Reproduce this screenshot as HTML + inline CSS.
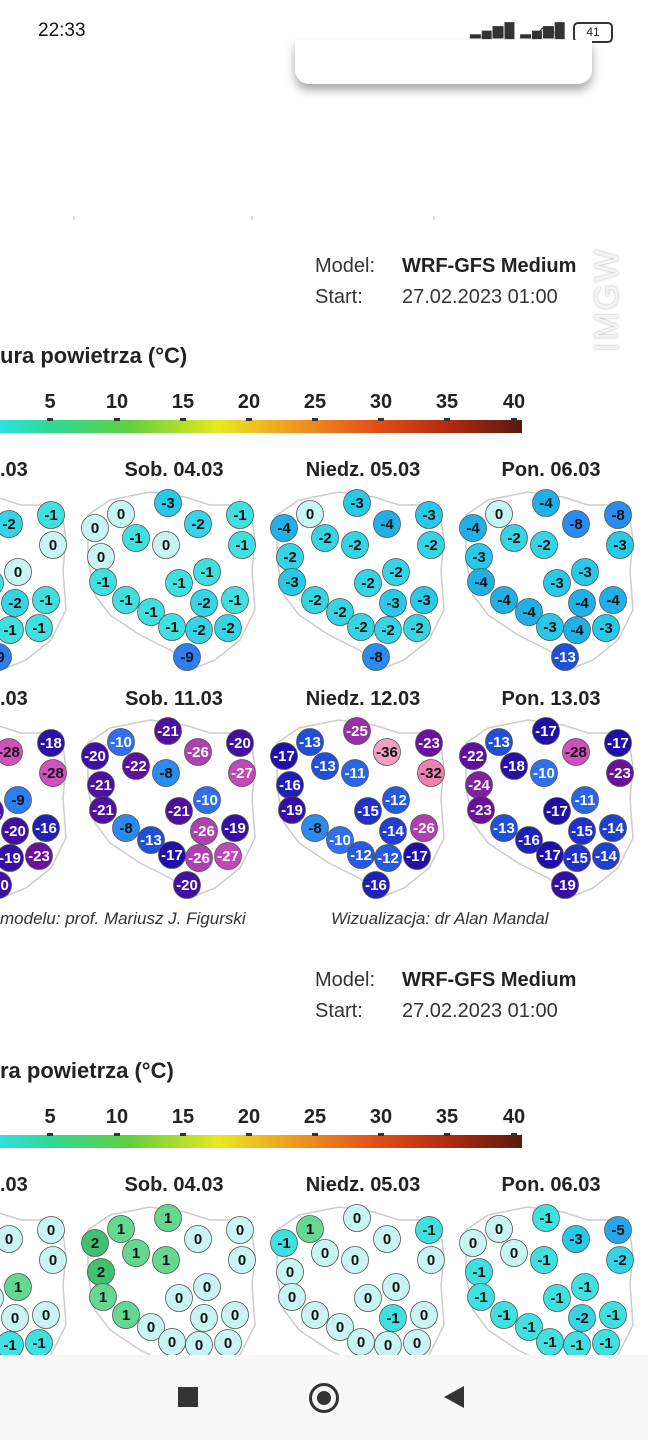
<!DOCTYPE html>
<html><head><meta charset="utf-8"><style>
html,body{margin:0;padding:0;width:648px;height:1440px;overflow:hidden;background:#fff;font-family:"Liberation Sans",sans-serif;position:relative}
.a{position:absolute;white-space:nowrap}
</style></head><body>
<div class="a" style="left:38px;top:20px;font-size:19px;color:#111">22:33</div>
<div class="a" style="left:470px;top:22px;font-size:14px;color:#333;letter-spacing:1px">▂▄▆█ ▂▄▆█</div>
<div class="a" style="left:538px;top:20px;font-size:20px;color:#333">◠</div>
<div class="a" style="left:573px;top:22px;width:36px;height:17px;border:2px solid #333;border-radius:5px;font-size:12px;text-align:center;line-height:17px;color:#222">41</div>
<div class="a" style="left:295px;top:40px;width:297px;height:44px;background:#fff;border-radius:0 0 14px 14px;box-shadow:0 6px 10px rgba(0,0,0,0.35)"></div>
<div class="a" style="left:582px;top:240px;width:50px;height:120px"><div style="transform:rotate(-90deg) translate(-112px,0);transform-origin:0 0;font-size:34px;color:#f4f4f4;letter-spacing:2px;text-shadow:0 0 2px #aaa;position:absolute;top:0;left:6px">IMGW</div></div>
<svg class="a" style="left:0;top:0" width="648" height="1355" id="s"></svg>
<div class="a" style="left:0;top:1355px;width:648px;height:85px;background:#f7f7f7"></div>
<div class="a" style="left:178px;top:1387px;width:20px;height:20px;background:#333"></div>
<div class="a" style="left:309px;top:1383px;width:24px;height:24px;border:3px solid #333;border-radius:50%"></div>
<div class="a" style="left:317px;top:1391px;width:14px;height:14px;background:#333;border-radius:50%"></div>
<div class="a" style="left:444px;top:1386px;width:0;height:0;border-top:11px solid transparent;border-bottom:11px solid transparent;border-right:20px solid #333"></div>
<script>
var S=document.getElementById('s'),h='';
function T(x,y,t,sz,w,fill,st,anc){h+='<text x="'+x+'" y="'+y+'" font-size="'+sz+'" font-weight="'+(w||'normal')+'" fill="'+(fill||'#222')+'" font-style="'+(st||'normal')+'" text-anchor="'+(anc||'start')+'" font-family="Liberation Sans,sans-serif">'+t+'</text>';}
h+='<defs><linearGradient id="g"><stop offset="0" stop-color="#30e0e0"/><stop offset="0.1" stop-color="#30d890"/><stop offset="0.25" stop-color="#60d040"/><stop offset="0.42" stop-color="#e8e820"/><stop offset="0.55" stop-color="#f0a020"/><stop offset="0.72" stop-color="#e05018"/><stop offset="0.86" stop-color="#b02a10"/><stop offset="1" stop-color="#5a1810"/></linearGradient></defs>';
h+='<text x="72" y="218" font-size="14" fill="#aaa">,</text><text x="250" y="218" font-size="14" fill="#aaa">,</text><text x="432" y="218" font-size="14" fill="#aaa">,</text>';
function header(y){
 T(315,y,'Model:',20,'normal','#333');T(402,y,'WRF-GFS Medium',20,'bold','#222');
 T(315,y+31,'Start:',20,'normal','#333');T(402,y+31,'27.02.2023 01:00',20,'normal','#333');
}
header(272);header(986);
function scale(y,lab){
 T(0,y,lab,22,'bold','#222');
 var xs=[50,117,183,249,315,381,447,514];
 for(var i=0;i<8;i++)T(xs[i],y+45,5*(i+1),20,'bold','#222','normal','middle');
 h+='<rect x="0" y="'+(y+57)+'" width="522" height="13" fill="url(#g)"/>';
 for(var i=0;i<8;i++)h+='<rect x="'+(xs[i]-3)+'" y="'+(y+55)+'" width="6" height="3" fill="#333"/>';
}
scale(363,'ura powietrza (°C)');scale(1078,'ra powietrza (°C)');
function days(y,a){var xs=[0,174,363,551];for(var i=0;i<4;i++)T(xs[i],y,a[i],20,'bold','#222','normal',i?'middle':'start');}
days(476,['.03','Sob. 04.03','Niedz. 05.03','Pon. 06.03']);
days(705,['.03','Sob. 11.03','Niedz. 12.03','Pon. 13.03']);
days(1191,['.03','Sob. 04.03','Niedz. 05.03','Pon. 06.03']);
T(0,924,'modelu: prof. Mariusz J. Figurski',17,'normal','#333','italic');
T(331,924,'Wizualizacja: dr Alan Mandal',17,'normal','#333','italic');
var P=[[95,528],[121,514],[168,503],[198,524],[240,515],[242,545],[166,545],[101,557],[136,538],[103,582],[179,583],[207,572],[126,600],[204,603],[235,600],[151,612],[172,627],[199,630],[228,628],[187,657]];
var outline=[[88,515],[110,500],[150,492],[185,497],[210,505],[250,505],[255,540],[252,570],[255,610],[240,640],[215,660],[195,668],[170,650],[140,635],[110,615],[95,595],[88,560]];
var stops=[[2,[64,192,112]],[1,[100,216,144]],[0,[200,244,244]],[-1,[64,224,224]],[-3,[40,200,232]],[-4,[32,176,232]],[-8,[42,140,240]],[-10,[48,112,240]],[-13,[32,80,216]],[-15,[32,48,200]],[-17,[32,16,168]],[-20,[64,16,160]],[-23,[106,16,154]],[-26,[176,64,176]],[-28,[208,80,192]],[-32,[240,128,176]],[-36,[240,160,192]]];
function col(v){if(v>=2)return 'rgb(64,192,112)';for(var i=0;i<stops.length-1;i++){var a=stops[i],b=stops[i+1];if(v<=a[0]&&v>=b[0]){var t=(a[0]-v)/(a[0]-b[0]);return 'rgb('+a[1].map(function(c,k){return Math.round(c+(b[1][k]-c)*t)}).join(',')+')';}}return 'rgb(240,160,192)';}
function map(dx,dy,vals){
 h+='<polygon points="'+outline.map(function(p){return (p[0]+dx)+','+(p[1]+dy)}).join(' ')+'" fill="none" stroke="#ccc" stroke-width="1.5"/>';
 for(var i=0;i<P.length;i++){var v=vals[i];var x=P[i][0]+dx,y=P[i][1]+dy;
  h+='<circle cx="'+x+'" cy="'+y+'" r="13.5" fill="'+col(v)+'" stroke="#555" stroke-width="0.8"/>';
  var tc=(v<=-10&&v>=-27)?'#fff':'#111';
  T(x,y+5,v,15,'bold',tc,'normal','middle');}
}
var r1=[[-1,-1,-2,-2,-1,0,-1,-1,-1,-1,-1,0,-1,-2,-1,-1,-1,-1,-1,-9],
[0,0,-3,-2,-1,-1,0,0,-1,-1,-1,-1,-1,-2,-1,-1,-1,-2,-2,-9],
[-4,0,-3,-4,-3,-2,-2,-2,-2,-3,-2,-2,-2,-3,-3,-2,-2,-2,-2,-8],
[-4,0,-4,-8,-8,-3,-2,-3,-2,-4,-3,-3,-4,-4,-4,-4,-3,-4,-3,-13]];
var r2=[[-20,-10,-21,-28,-18,-28,-8,-21,-22,-21,-21,-9,-8,-20,-16,-13,-17,-19,-23,-20],
[-20,-10,-21,-26,-20,-27,-8,-21,-22,-21,-21,-10,-8,-26,-19,-13,-17,-26,-27,-20],
[-17,-13,-25,-36,-23,-32,-11,-16,-13,-19,-15,-12,-8,-14,-26,-10,-12,-12,-17,-16],
[-22,-13,-17,-28,-17,-23,-10,-24,-18,-23,-17,-11,-13,-15,-14,-16,-17,-15,-14,-19]];
var r3=[[0,0,1,0,0,0,1,1,1,1,0,1,0,0,0,0,0,-1,-1,0],
[2,1,1,0,0,0,1,2,1,1,0,0,1,0,0,0,0,0,0,0],
[-1,1,0,0,-1,0,0,0,0,0,0,0,0,-1,0,0,0,0,0,0],
[0,0,-1,-3,-5,-2,-1,-1,0,-1,-1,-1,-1,-2,-1,-1,-1,-1,-1,-1]];
var dxs=[-189,0,189,378];
for(var c=0;c<4;c++){map(dxs[c],0,r1[c]);map(dxs[c],228,r2[c]);map(dxs[c],715,r3[c]);}
S.innerHTML=h;
</script>
</body></html>
